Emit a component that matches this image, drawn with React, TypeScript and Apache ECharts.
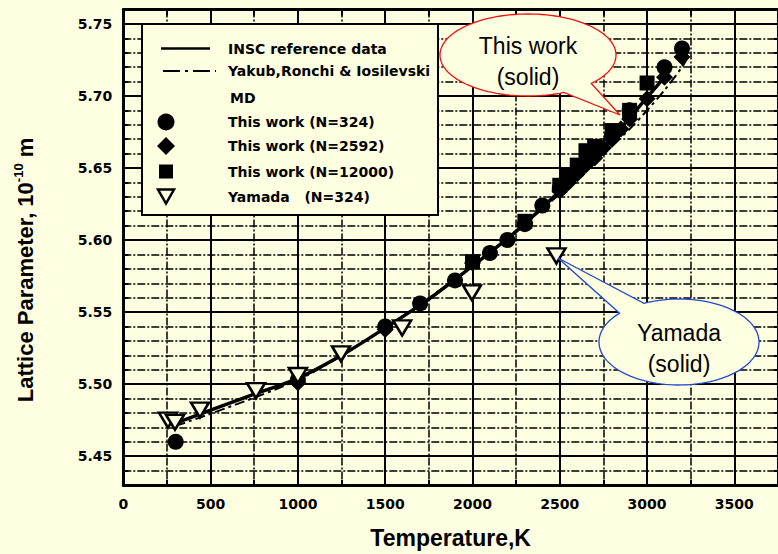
import React, { useEffect, useRef } from "react";
import * as echarts from "echarts";

// ---------- data ----------
const inscT = [280, 500, 750, 1000, 1250, 1500, 1750, 2000, 2250, 2500, 2750, 3000, 3120];
const inscA = [5.472, 5.482, 5.493, 5.504, 5.52, 5.539, 5.559, 5.582, 5.606, 5.634, 5.664, 5.699, 5.716];

const yakubT = [300, 1000, 1500, 2000, 2500, 2750, 2900, 3000, 3100, 3200, 3230];
const yakubA = [5.471, 5.503, 5.539, 5.582, 5.632, 5.66, 5.677, 5.69, 5.704, 5.72, 5.726];

const md324T = [300, 1000, 1500, 1700, 1900, 2100, 2200, 2300, 2400, 2500, 2600, 2700, 2800, 2900, 3100, 3200];
const md324A = [5.46, 5.503, 5.54, 5.556, 5.572, 5.591, 5.6, 5.611, 5.624, 5.636, 5.648, 5.66, 5.673, 5.69, 5.72, 5.733];

const md2592T = [1000, 1500, 2000, 2300, 2500, 2550, 2600, 2650, 2700, 2750, 2800, 2850, 2900, 3000, 3100, 3200];
const md2592A = [5.501, 5.538, 5.584, 5.612, 5.634, 5.64, 5.646, 5.652, 5.657, 5.664, 5.67, 5.677, 5.684, 5.698, 5.713, 5.727];

const md12000T = [2000, 2300, 2500, 2550, 2600, 2650, 2700, 2800, 2900, 3000];
const md12000A = [5.585, 5.613, 5.638, 5.645, 5.652, 5.662, 5.665, 5.676, 5.69, 5.709];

const yamadaT = [256, 296, 439, 760, 1000, 1247, 1597, 1997, 2481];
const yamadaA = [5.475, 5.4735, 5.482, 5.4955, 5.506, 5.521, 5.539, 5.5634, 5.589];

const legendLabels = [
  "INSC reference data",
  "Yakub,Ronchi & Iosilevski",
  "MD",
  "This work (N=324)",
  "This work (N=2592)",
  "This work (N=12000)",
  "Yamada   (N=324)",
];

const xTitle = "Temperature,K";
const calloutRed = ["This work", "(solid)"];
const calloutBlue = ["Yamada", "(solid)"];

// ---------- styles ----------
const BG = "#FFFFE1";
const TICK_FONT = "DejaVu Sans";
const TITLE_FONT = "Liberation Sans";

const zip = (xs: number[], ys: number[]) => xs.map((x, i) => [x, ys[i]]);

function ellipseCallout(
  cx: number, cy: number, rx: number, ry: number,
  a1: number, a2: number, tip: number[]
) {
  const pts: number[][] = [];
  for (let a = a2; a <= a1 + 360; a += 3) {
    const r = (a * Math.PI) / 180;
    pts.push([cx + rx * Math.cos(r), cy + ry * Math.sin(r)]);
  }
  const r1 = ((a1 + 360) * Math.PI) / 180;
  pts.push([cx + rx * Math.cos(r1), cy + ry * Math.sin(r1)]);
  pts.push(tip);
  return pts;
}

function buildOption() {
  const axisLine = { show: true, onZero: false, lineStyle: { color: "#000", width: 3 } };
  const tickStyle = { color: "#000", width: 2 };
  const minorSplit = { show: true, lineStyle: { color: "#000", width: 1.5, opacity: 1, type: [8, 2, 2, 2] } };
  const labelStyle = {
    color: "#000",
    fontFamily: TICK_FONT,
    fontWeight: "bold",
    fontSize: 14,
  };

  const rowY = [48.5, 71, 97.5, 122, 146, 171.5, 196.5];
  const legendText = legendLabels.map((t, i) => ({
    type: "text",
    x: i === 2 ? 230 : 228,
    y: rowY[i],
    z: 12,
    style: {
      text: t,
      font: `bold 14px "${TICK_FONT}"`,
      fill: "#000",
      verticalAlign: "middle",
      align: "left",
    },
  }));

  const calloutText = (txt: string, x: number, y: number) => ({
    type: "text",
    x,
    y,
    z: 21,
    style: {
      text: txt,
      font: `23px "${TITLE_FONT}"`,
      fill: "#000",
      align: "center",
      verticalAlign: "middle",
    },
  });

  const graphic: any[] = [
    // legend box
    {
      type: "rect",
      z: 10,
      shape: { x: 142, y: 24, width: 296, height: 191 },
      style: { fill: BG, stroke: "#000", lineWidth: 2 },
    },
    {
      type: "line",
      z: 12,
      shape: { x1: 161, y1: rowY[0], x2: 210, y2: rowY[0] },
      style: { stroke: "#000", lineWidth: 2.5 },
    },
    {
      type: "line",
      z: 12,
      shape: { x1: 163, y1: rowY[1], x2: 216, y2: rowY[1] },
      style: { stroke: "#000", lineWidth: 2, lineDash: [17, 5, 3, 5] },
    },
    {
      type: "circle",
      z: 12,
      shape: { cx: 166, cy: rowY[3], r: 8.5 },
      style: { fill: "#000" },
    },
    {
      type: "polygon",
      z: 12,
      shape: { points: [[166, rowY[4] - 9], [175, rowY[4]], [166, rowY[4] + 9], [157, rowY[4]]] },
      style: { fill: "#000" },
    },
    {
      type: "rect",
      z: 12,
      shape: { x: 159, y: rowY[5] - 7, width: 14, height: 14 },
      style: { fill: "#000" },
    },
    {
      type: "polygon",
      z: 12,
      shape: { points: [[158, rowY[6] - 7], [174, rowY[6] - 7], [166, rowY[6] + 7]] },
      style: { fill: BG, stroke: "#000", lineWidth: 2.5 },
    },
    ...legendText,
    // y axis title
    {
      type: "text",
      x: 25,
      y: 270,
      rotation: Math.PI / 2,
      z: 12,
      style: {
        text: "{a|Lattice Parameter, 10}{s|-10}{a| m}",
        align: "center",
        verticalAlign: "middle",
        fill: "#000",
        rich: {
          a: { font: `bold 22px "${TITLE_FONT}"`, fill: "#000", lineHeight: 26 },
          s: { font: `bold 13px "${TITLE_FONT}"`, fill: "#000", verticalAlign: "top" },
        },
      },
    },
    // red callout
    {
      type: "polygon",
      z: 20,
      shape: { points: ellipseCallout(528, 55, 88, 41, 44, 66, [620, 115]) },
      style: { fill: BG, stroke: "#ee1111", lineWidth: 1.3 },
    },
    calloutText(calloutRed[0], 528, 46),
    calloutText(calloutRed[1], 528, 77),
    // blue callout
    {
      type: "polygon",
      z: 20,
      shape: { points: ellipseCallout(679, 342, 80, 43, 222, 244, [558, 258]) },
      style: { fill: BG, stroke: "#2249cc", lineWidth: 1.3 },
    },
    calloutText(calloutBlue[0], 679, 333),
    calloutText(calloutBlue[1], 679, 364),
  ];

  return {
    animation: false,
    backgroundColor: BG,
    grid: { left: 123.3, right: -1.7, top: 9.5, bottom: 66.3, containLabel: false },
    xAxis: [
      {
        type: "value",
        position: "bottom",
        min: 0,
        max: 3750,
        interval: 500,
        axisLine,
        axisTick: { show: true, inside: true, length: 8, lineStyle: tickStyle },
        minorTick: { show: true, splitNumber: 2, length: 5, lineStyle: tickStyle },
        axisLabel: { ...labelStyle, margin: 12, showMaxLabel: false, formatter: (v: number) => String(v) },
        splitLine: { show: true, lineStyle: { color: "#000", width: 2 } },
        minorSplitLine: minorSplit,
        name: xTitle,
        nameLocation: "middle",
        nameGap: 41,
        nameTextStyle: {
          fontFamily: TITLE_FONT,
          fontWeight: "bold",
          fontSize: 23,
          color: "#000",
        },
      },
      {
        type: "value",
        position: "top",
        min: 0,
        max: 3750,
        interval: 500,
        axisLine,
        axisTick: { show: true, inside: true, length: 8, lineStyle: tickStyle },
        minorTick: { show: true, splitNumber: 2, length: 6, lineStyle: tickStyle },
        axisLabel: { show: false },
        splitLine: { show: false },
      },
    ],
    yAxis: [
      {
        type: "value",
        position: "left",
        min: 5.43,
        max: 5.76,
        splitNumber: 7,
        minInterval: 0.05,
        maxInterval: 0.05,
        axisLine,
        axisTick: { show: true, inside: true, length: 9, lineStyle: tickStyle },
        minorTick: { show: true, splitNumber: 5, length: 5, lineStyle: tickStyle },
        axisLabel: {
          ...labelStyle,
          margin: 11,
          showMinLabel: false,
          showMaxLabel: false,
          formatter: (v: number) => v.toFixed(2),
        },
        splitLine: { show: true, lineStyle: { color: "#000", width: 2 } },
        minorSplitLine: minorSplit,
      },
      {
        type: "value",
        position: "right",
        min: 5.43,
        max: 5.76,
        splitNumber: 7,
        minInterval: 0.05,
        maxInterval: 0.05,
        axisLine,
        axisTick: { show: true, inside: true, length: 9, lineStyle: tickStyle },
        minorTick: { show: true, splitNumber: 5, length: 4, lineStyle: tickStyle },
        axisLabel: { show: false },
        splitLine: { show: false },
      },
    ],
    series: [
      {
        type: "line",
        name: legendLabels[0],
        data: zip(inscT, inscA),
        symbol: "none",
        smooth: 0.3,
        lineStyle: { color: "#000", width: 3.5 },
        z: 2,
      },
      {
        type: "line",
        name: legendLabels[1],
        data: zip(yakubT, yakubA),
        symbol: "none",
        smooth: 0.3,
        lineStyle: { color: "#000", width: 2, type: [10, 4, 3, 4] },
        z: 2,
      },
      {
        type: "scatter",
        name: legendLabels[3],
        data: zip(md324T, md324A),
        symbol: "circle",
        symbolSize: 16,
        itemStyle: { color: "#000", opacity: 1 },
        z: 3,
      },
      {
        type: "scatter",
        name: legendLabels[4],
        data: zip(md2592T, md2592A),
        symbol: "diamond",
        symbolSize: [17, 17],
        itemStyle: { color: "#000", opacity: 1 },
        z: 3,
      },
      {
        type: "scatter",
        name: legendLabels[5],
        data: zip(md12000T, md12000A),
        symbol: "rect",
        symbolSize: 15,
        itemStyle: { color: "#000", opacity: 1 },
        z: 3,
      },
      {
        type: "scatter",
        name: legendLabels[6],
        data: zip(yamadaT, yamadaA),
        symbol: "triangle",
        symbolRotate: 180,
        symbolSize: [18, 15],
        itemStyle: { color: BG, borderColor: "#000", borderWidth: 2.5, opacity: 1 },
        z: 4,
      },
    ],
    graphic,
  };
}

export default function App() {
  const ref = useRef<HTMLDivElement>(null);
  useEffect(() => {
    document.body.style.margin = "0";
    document.body.style.overflow = "hidden";
    const chart = echarts.init(ref.current!, null, { renderer: "svg" });
    chart.setOption(buildOption() as any);
    return () => chart.dispose();
  }, []);
  return (
    <div
      ref={ref}
      style={{ position: "fixed", left: 0, top: 0, width: 778, height: 554, background: BG }}
    />
  );
}
